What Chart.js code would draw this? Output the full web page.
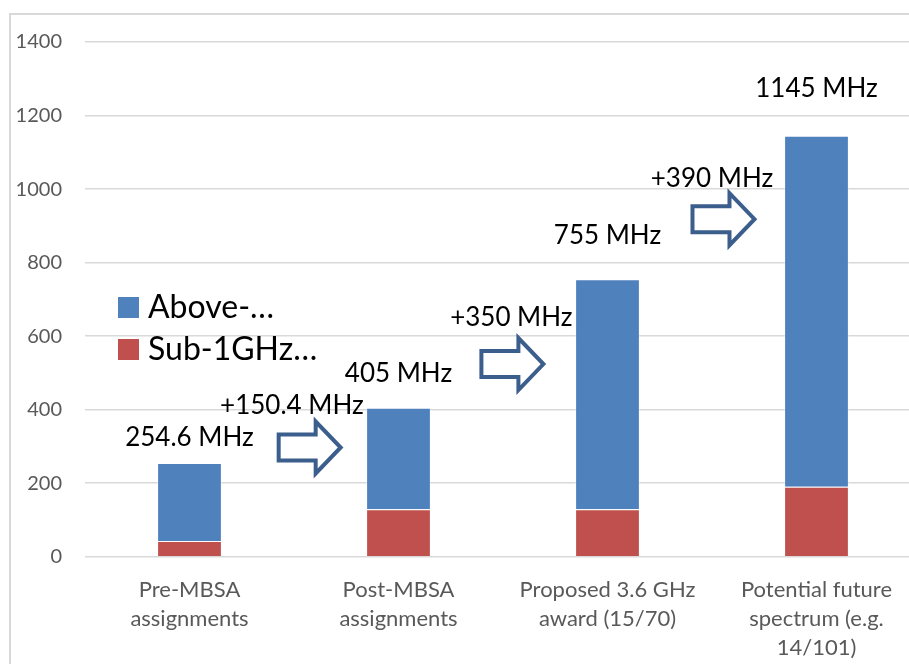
<!DOCTYPE html>
<html>
<head>
<meta charset="utf-8">
<script src="https://cdn.jsdelivr.net/npm/chart.js@4.4.1/dist/chart.umd.min.js"></script>
<style>
  html, body { margin: 0; padding: 0; background: #fff; overflow: hidden; width: 909px; height: 664px; }
  #frame { position: absolute; left: 9px; top: 13px; width: 940px; height: 700px; border: 2px solid #d9d9d9; }
  #chart { position: absolute; left: 11px; top: 7px; }
</style>
</head>
<body>
<div id="frame"></div>
<canvas id="chart" width="925" height="660"></canvas>
<script>
// categories and series (MHz)
const categories = [
    ['Pre-MBSA', 'assignments'],
    ['Post-MBSA', 'assignments'],
    ['Proposed 3.6 GHz', 'award (15/70)'],
    ['Potential future', 'spectrum (e.g.', '14/101)']
];
const sub1GHz = [43, 129, 129, 190];
const above1GHz = [211.6, 276, 626, 955];
const totalLabels = ['254.6 MHz', '405 MHz', '755 MHz', '1145 MHz'];
const increaseLabels = ['+150.4 MHz', '+350 MHz', '+390 MHz'];
const yTicks = [0, 200, 400, 600, 800, 1000, 1200, 1400];

// where the annotations sit (category index, value on y axis)
const totalLabelPos = [[0, 325], [1, 497], [2, 874], [3, 1274]];
const arrowPos = [[0.575, 297], [1.545, 524], [2.555, 918]];
const increaseLabelPos = [[0.49, 412], [1.54, 649], [2.5, 1029]];

const BLUE = '#4f81bd';
const RED = '#c0504d';
const FONT = 'Lato, "Open Sans", sans-serif';

function drawArrow(ctx, cx, cy) {
    const L = 62, sh = 26, hh = 52, hl = 25;
    const x0 = cx - L / 2, x1 = cx + L / 2, xb = x1 - hl;
    ctx.beginPath();
    ctx.moveTo(x0, cy - sh / 2);
    ctx.lineTo(xb, cy - sh / 2);
    ctx.lineTo(xb, cy - hh / 2);
    ctx.lineTo(x1, cy);
    ctx.lineTo(xb, cy + hh / 2);
    ctx.lineTo(xb, cy + sh / 2);
    ctx.lineTo(x0, cy + sh / 2);
    ctx.closePath();
    ctx.fillStyle = '#fff';
    ctx.fill();
    ctx.lineWidth = 4;
    ctx.lineJoin = 'miter';
    ctx.strokeStyle = '#3b5e8c';
    ctx.stroke();
}

const annotations = {
    id: 'annotations',
    afterDatasetsDraw(chart) {
        const ctx = chart.ctx;
        const x = chart.scales.x, y = chart.scales.y;
        ctx.save();
        ctx.font = '26px ' + FONT;
        ctx.fillStyle = '#000';
        ctx.textAlign = 'center';
        ctx.textBaseline = 'middle';
        totalLabels.forEach((t, i) => {
            const p = totalLabelPos[i];
            ctx.fillText(t, x.getPixelForValue(p[0]), y.getPixelForValue(p[1]));
        });
        arrowPos.forEach(p => drawArrow(ctx, x.getPixelForValue(p[0]), y.getPixelForValue(p[1])));
        ctx.fillStyle = '#000';
        increaseLabels.forEach((t, i) => {
            const p = increaseLabelPos[i];
            ctx.fillText(t, x.getPixelForValue(p[0]), y.getPixelForValue(p[1]));
        });

        // legend inside the plot, top entry is the upper series
        const area = chart.chartArea;
        const items = chart.data.datasets.slice().reverse();
        ctx.font = '32px ' + FONT;
        ctx.textAlign = 'left';
        items.forEach((ds, i) => {
            const top = area.top + 255 + i * 42;
            ctx.fillStyle = ds.backgroundColor;
            ctx.fillRect(area.left + 33, top, 21, 21);
            ctx.fillStyle = '#000';
            ctx.fillText(ds.label, area.left + 63, top + 11);
        });
        ctx.restore();
    }
};

new Chart(document.getElementById('chart').getContext('2d'), {
    type: 'bar',
    data: {
        labels: categories,
        datasets: [
            { label: 'Sub-1GHz…', data: sub1GHz, backgroundColor: RED, borderColor: 'rgba(255,255,255,0.35)', borderWidth: 1 },
            { label: 'Above-…', data: above1GHz, backgroundColor: BLUE, borderColor: 'rgba(255,255,255,0.35)', borderWidth: 1 }
        ]
    },
    options: {
        responsive: false,
        animation: false,
        devicePixelRatio: 1,
        layout: { padding: { top: 0, right: 15, left: 0, bottom: 0 } },
        datasets: { bar: { categoryPercentage: 1, barPercentage: 0.31 } },
        plugins: {
            legend: { display: false },
            tooltip: { enabled: false }
        },
        scales: {
            x: {
                stacked: true,
                grid: { display: false },
                border: { display: false },
                ticks: {
                    color: '#595959',
                    font: { family: FONT, size: 22, lineHeight: 1.32 },
                    padding: 11,
                    maxRotation: 0,
                    autoSkip: false
                },
                afterFit(scale) { scale.height = 110.3; }
            },
            y: {
                stacked: true,
                min: 0,
                max: 1400,
                afterBuildTicks(scale) { scale.ticks = yTicks.map(v => ({ value: v })); },
                grid: { color: '#d9d9d9', lineWidth: 1.5, drawTicks: false },
                border: { display: false },
                ticks: {
                    color: '#595959',
                    font: { family: FONT, size: 20 },
                    padding: 23,
                    callback: v => String(v)
                },
                afterFit(scale) { scale.width = 74; }
            }
        }
    },
    plugins: [annotations]
});
</script>
</body>
</html>
